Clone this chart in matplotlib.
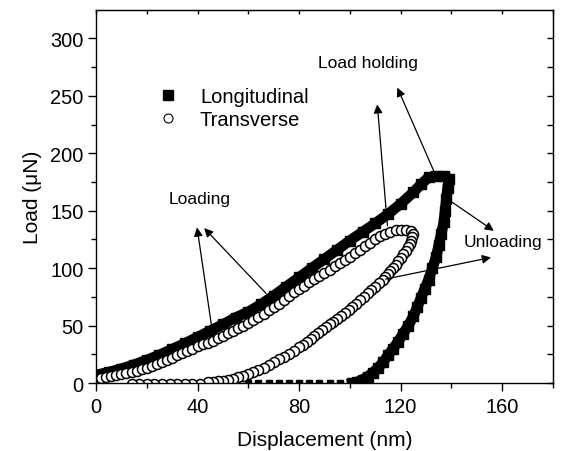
import numpy as np
import matplotlib
matplotlib.use('Agg')
import matplotlib.pyplot as plt
from matplotlib.lines import Line2D

plt.rcParams['font.family'] = ['Liberation Sans', 'DejaVu Sans']

# Longitudinal: loading, load holding, unloading (nm, uN)
long_x = [0, 5, 10, 15, 20, 25, 30, 35, 40, 45, 50, 55, 60, 65, 70, 75, 80, 85,
          90, 95, 100, 105, 110, 115, 120, 125, 128, 131,
          134, 137, 139,
          138.5, 138, 137.5, 137, 136, 135, 134, 132.5, 131, 129.5, 128, 126.5,
          125, 123, 121, 119, 117, 115, 113, 111, 109, 107, 105, 103, 101]
long_y = [7, 9.5, 12.5, 16, 20, 24.5, 29.5, 34.5, 40, 45.5, 51, 57, 62, 68.5,
          76, 84, 92, 100, 108, 116, 124, 131.5, 139, 147, 156, 166, 173, 179,
          180, 180, 178,
          170, 160, 150, 140, 130, 120, 110, 100, 90, 82, 74, 66,
          58, 50, 43, 36, 30, 24, 18, 13, 9, 5.5, 3, 1, 0]
long_tail_x = [60, 64, 68, 72, 76, 80, 84, 88, 92, 96]
long_tail_y = [0, 0, 0, 0, 0, 0, 0, 0, 0, 0]

# Transverse loading
tr_load_x = [0, 2, 4, 6, 8, 10, 12, 14, 16, 18, 20, 22, 24, 26, 28, 30, 32, 34,
             36, 38, 40, 42, 44, 46, 48, 50, 52, 54, 56, 58, 60, 62, 64, 66, 68,
             70, 72, 74, 76, 78, 80, 82, 84, 86, 88, 90, 92, 94, 96, 98, 100,
             102, 104, 106, 108, 110, 112, 114, 116, 118, 120, 122, 124]
tr_load_y = [3, 4.2, 5.4, 6.4, 7.2, 8, 8.8, 9.6, 10.6, 12,
             13.5, 15, 16.7, 18.4, 20.2, 22, 24, 26, 28, 30,
             32, 33.6, 35.2, 36.8, 39, 41, 43.2, 45.4, 47.5, 50,
             52.5, 55, 57.8, 60.5, 63.5, 66, 69, 72, 75.5, 79,
             82, 84.8, 87.6, 90.4, 93.2, 96, 98.8, 101.6, 104.4, 107.2,
             110, 113, 116, 119, 122, 125, 127.8, 130, 131.8, 133,
             133.5, 133.5, 132.5]
# Transverse unloading
tr_unl_x = [125, 124.5, 124, 123.5, 123, 122, 121, 120, 119, 118, 117, 116,
            115, 114, 113, 111.5, 110, 108.5, 107, 105.5, 104, 102.5, 101,
            99.5, 98, 96.5, 95, 93.5, 92, 90.5, 89, 87.5, 86, 84.5, 83, 81.5,
            80, 78, 76, 74, 72, 70, 68, 66, 64, 62, 60, 58, 56, 54, 52, 50,
            48, 46, 44]
tr_unl_y = [130, 127, 124, 121, 118, 115, 112, 109, 106, 103, 100, 97.5,
            95, 92.5, 90, 87, 84, 81, 78, 75, 72, 69, 66,
            63.5, 61, 58.5, 56, 53.5, 51, 48.5, 46, 43.5, 41, 38.5, 36, 33.5,
            31, 28, 25.5, 23, 20.5, 18, 15.5, 13.5, 11.5, 9.5, 8, 6.5, 5, 3.8,
            2.8, 2, 1.4, 1, 0.6]
tr_tail_x = [41, 38, 35, 32, 29, 26, 23, 20, 17, 14]
tr_tail_y = [-1.2, -1.2, -1.2, -1.2, -1.2, -1.2, -1.2, -1.2, -1.2, -1.2]


def main():
    fig = plt.figure(figsize=(5.61, 4.52), dpi=100)
    ax = fig.add_axes([0.1711, 0.1504, 0.8146, 0.8259])

    ax.plot(long_x, long_y, '-', color='k', lw=7.6, marker='s', ms=7.5,
            solid_joinstyle='round')
    ax.plot(long_tail_x, long_tail_y, ls='none', marker='s', ms=4, color='k')

    tx = tr_load_x + tr_unl_x + tr_tail_x
    ty = tr_load_y + tr_unl_y + tr_tail_y
    ax.plot(tx, ty, ls='none', marker='o', ms=7.2, mfc='white', mec='k',
            mew=1.1)

    ax.set_xlim(0, 180)
    ax.set_ylim(0, 325)
    ax.set_xticks([0, 40, 80, 120, 160])
    ax.set_xticks([20, 60, 100, 140, 180], minor=True)
    ax.set_yticks([0, 50, 100, 150, 200, 250, 300])
    ax.set_yticks([25, 75, 125, 175, 225, 275], minor=True)
    ax.tick_params(which='both', direction='out', labelsize=14.4, width=1)
    ax.tick_params(which='major', length=6, pad=3)
    ax.tick_params(which='minor', length=3.5)
    ax.tick_params(axis='x', which='major', pad=4)
    for sp in ax.spines.values():
        sp.set_linewidth(1.0)

    # inward mirror ticks on top and right
    top = ax.secondary_xaxis('top')
    top.set_xticks([0, 20, 40, 60, 80, 100, 120, 140, 160, 180])
    top.tick_params(direction='in', length=3, labeltop=False, width=1)
    right = ax.secondary_yaxis('right')
    right.set_yticks([0, 25, 50, 75, 100, 125, 150, 175, 200, 225, 250, 275, 300])
    right.tick_params(direction='in', length=4, labelright=False, width=1)

    ax.set_xlabel('Displacement (nm)', fontsize=15, labelpad=10)
    ax.set_ylabel('Load (\u03bcN)', fontsize=15, labelpad=6)

    handles = [Line2D([], [], ls='none', marker='s', ms=7, color='k'),
               Line2D([], [], ls='none', marker='o', ms=6.5, mfc='white',
                      mec='k', mew=0.8)]
    ax.legend(handles, ['Longitudinal', 'Transverse'], loc='upper left',
              bbox_to_anchor=(0.142, 0.792), frameon=False, fontsize=14.5,
              handlelength=0.7, handletextpad=1.24, labelspacing=0.2,
              borderpad=0, borderaxespad=0)

    arrow = dict(arrowstyle='-|>', color='k', lw=0.9, mutation_scale=13,
                 shrinkA=0, shrinkB=0)
    fs = 12.5
    ax.text(40.7, 160.5, 'Loading', fontsize=fs, ha='center', va='center')
    ax.annotate('', xy=(39.8, 135.5), xytext=(45.7, 47.0), arrowprops=arrow)
    ax.annotate('', xy=(42.6, 134.9), xytext=(67.0, 78.0), arrowprops=arrow)

    ax.text(107, 279, 'Load holding', fontsize=fs, ha='center', va='center')
    ax.annotate('', xy=(110.8, 242.7), xytext=(114.8, 136.9), arrowprops=arrow)
    ax.annotate('', xy=(118.7, 257.2), xytext=(133.2, 183.8), arrowprops=arrow)

    ax.text(160.4, 123.1, 'Unloading', fontsize=fs, ha='center', va='center')
    ax.annotate('', xy=(156.7, 132.5), xytext=(138.5, 160.1), arrowprops=arrow)
    ax.annotate('', xy=(155.6, 109.3), xytext=(114.1, 90.5), arrowprops=arrow)

    fig.savefig('out.png', dpi=100)


if __name__ == '__main__':
    main()
